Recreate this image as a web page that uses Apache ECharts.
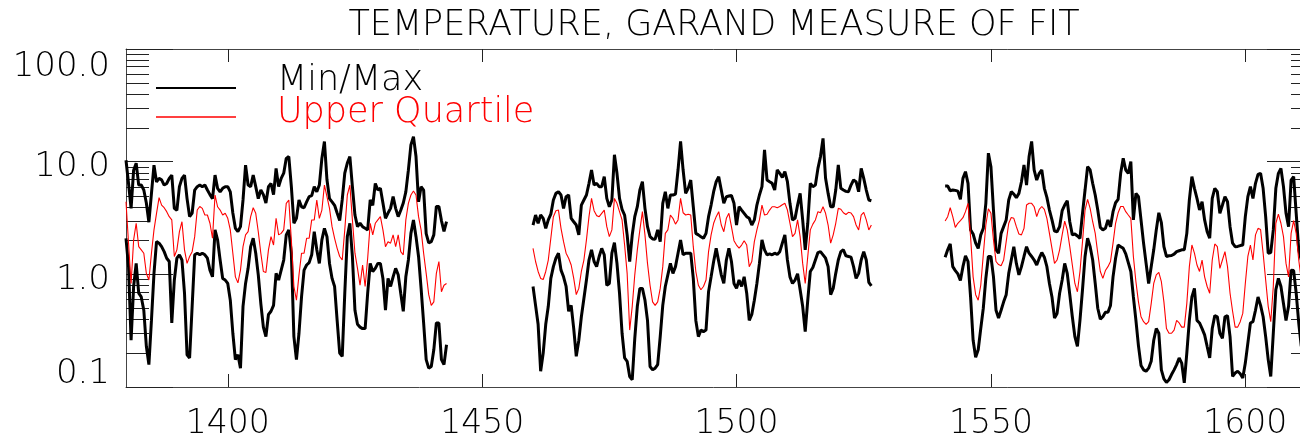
<!DOCTYPE html>
<html>
<head>
<meta charset="utf-8">
<script src="https://cdn.jsdelivr.net/npm/echarts@6/dist/echarts.min.js"></script>
<style>
html,body{margin:0;padding:0;background:#fff;}
#chart{width:1300px;height:439px;}
</style>
</head>
<body>
<div id="chart"></div>
<script>
// ---- data ----
const TITLE = 'TEMPERATURE, GARAND MEASURE OF FIT';
const STEP = 0.5;                       // sampling step of the series (years)
const segStarts = [1380, 1460, 1541];   // first year of each data segment
const xTicks = [1400, 1450, 1500, 1550, 1600];
const yMinorTicks = [0.2,0.3,0.4,0.5,0.6,0.7,0.8,0.9,2,3,4,5,6,7,8,9,20,30,40,50,60,70,80,90];

const maxSeg1 = [10.3,6.4,3.85,8.4,9.7,6.2,6.2,5.6,4.3,2.9,5.2,9.3,6.6,7.1,6.9,6.2,6.4,7.1,7.6,3.85,3.7,6.0,7.1,7.6,4.7,3.25,3.5,5.6,6.0,6.2,6.0,6.2,5.6,5.1,4.7,7.6,5.8,5.4,5.8,6.0,6.0,5.4,3.5,2.56,2.4,2.65,4.57,9.3,6.2,6.0,7.6,6.0,4.7,5.6,5.1,4.3,6.0,6.4,5.1,8.7,6.0,7.1,7.9,10.7,11.1,
6.0,2.84,3.14,4.57,3.98,3.9,4.4,4.9,5.0,6.0,5.4,6.2,10.7,15.1,6.9,4.7,4.4,4.1,3.5,3.0,4.6,7.9,9.7,11.1,6.0,3.36,2.65,2.84,2.65,2.56,2.48,4.57,4.1,6.4,5.6,5.8,4.3,3.14,3.5,3.85,4.9,3.85,3.25,3.7,4.3,5.4,8.4,14.1,16.7,11.1,4.4,6.0,5.6,2.3,1.9,1.95,2.24,4.0,4.0,3.0,2.4,2.93];
const maxSeg2 = [2.74,3.36,2.84,3.36,3.14,2.56,3.04,3.42,4.57,5.23,5.41,5.06,3.85,4.89,5.06,3.14,2.93,2.74,2.24,4.12,4.57,5.06,6.42,8.43,6.2,6.42,6.0,6.0,7.36,4.72,3.98,4.57,11.5,7.88,4.72,3.77,3.36,2.24,1.3,2.24,3.25,3.98,5.6,6.64,3.85,2.65,2.16,2.06,2.05,2.48,1.95,4.27,5.41,3.85,5.06,5.06,5.16,8.43,15.1,8.43,5.23,5.8,6.87,3.98,2.31,2.24,2.16,2.09,
2.31,3.25,4.12,5.41,6.64,7.36,5.6,4.27,4.89,4.95,5.0,4.27,2.74,3.98,3.72,3.48,3.25,3.14,2.74,3.04,4.12,5.06,6.0,12.7,6.87,6.64,6.42,5.6,8.43,7.88,7.25,8.15,6.64,4.27,3.04,3.14,4.12,5.23,3.04,1.65,2.84,6.42,6.0,6.2,8.72,11.1,16.1,7.11,5.23,3.98,3.98,5.6,9.34,5.8,5.6,5.45,5.41,6.2,6.87,6.64,5.41,8.72,7.11,5.6,4.57,4.5];
const maxSeg3 = [6.08,6.08,5.52,5.6,5.56,5.48,4.63,7.11,8.15,6.42,2.48,2.28,1.89,1.7,2.24,2.56,4.27,11.9,9.03,3.72,1.65,1.54,2.31,2.65,3.04,4.57,5.41,5.16,4.79,5.23,6.64,9.34,6.2,11.1,15.1,8.43,6.87,7.88,8.43,5.8,4.82,3.72,3.04,2.42,2.39,2.65,3.67,4.12,4.5,2.93,2.24,2.28,2.19,2.09,3.48,5.6,9.03,8.43,6.42,5.06,3.72,2.61,2.48,2.56,3.04,2.65,3.6,4.32,4.63,7.88,
10.7,8.43,7.88,10.0,3.04,5.23,4.89,3.04,1.89,1.25,0.83,1.17,1.65,2.48,3.52,2.88,1.76,1.44,1.46,1.47,1.51,1.59,1.62,1.65,1.65,2.31,4.57,7.36,5.8,4.72,3.72,4.41,3.04,2.39,2.09,4.72,5.8,5.41,3.48,4.12,4.89,4.41,2.65,1.89,1.76,1.77,1.8,1.82,3.25,4.89,6.0,4.72,6.42,7.72,7.88,5.8,3.25,1.54,1.56,2.48,5.8,7.88,8.72,6.0,3.48,2.65,6.87,7.36,3.48,1.65,1.34];

const minSeg1 = [2.09,1.17,0.26,0.78,1.25,0.68,0.63,0.48,0.23,0.158,0.39,1.02,1.95,1.89,1.76,1.59,1.39,1.3,0.37,0.89,1.39,1.49,1.34,0.68,0.193,0.181,0.52,1.49,1.54,1.49,1.54,1.49,1.39,1.09,0.95,2.48,2.02,1.34,0.92,0.89,0.83,0.59,0.3,0.175,0.193,0.147,0.52,0.83,1.13,1.76,2.09,1.54,0.99,0.55,0.34,0.28,0.44,0.47,0.53,1.02,0.89,1.09,1.34,2.24,2.48,
1.54,0.28,0.175,0.3,0.63,1.09,1.21,1.27,1.49,2.39,1.65,1.25,2.02,2.56,2.16,1.25,0.92,0.78,0.39,0.2,0.187,0.68,2.16,2.84,1.44,0.48,0.36,0.34,0.33,0.33,0.68,1.25,1.06,1.13,1.25,1.25,0.92,0.48,0.92,0.78,0.95,1.13,0.99,0.68,0.47,0.95,1.34,2.31,3.04,2.16,1.44,0.75,0.37,0.175,0.147,0.152,0.214,0.37,0.37,0.175,0.158,0.237];
const minSeg2 = [0.78,0.53,0.36,0.138,0.2,0.36,0.52,0.92,1.17,1.39,1.54,1.09,0.95,0.78,0.47,0.53,0.33,0.187,0.26,0.42,0.61,0.89,1.34,1.65,1.3,1.17,1.44,1.7,1.49,0.8,0.83,1.54,1.91,1.25,0.68,0.3,0.181,0.169,0.124,0.116,0.27,0.52,0.75,0.75,0.59,0.39,0.152,0.142,0.147,0.158,0.28,0.53,0.78,0.99,1.25,1.02,1.17,1.54,2.02,1.49,1.54,1.54,1.54,0.92,0.39,0.28,0.32,0.31,
0.32,0.7,0.95,1.3,1.7,1.3,0.99,0.83,1.34,1.7,1.3,0.83,0.75,0.89,0.78,0.95,0.68,0.39,0.44,0.59,0.83,1.25,2.02,1.65,1.49,1.52,1.49,1.54,1.5,1.59,1.89,2.24,1.34,0.95,0.83,0.89,1.01,0.73,0.52,0.31,0.59,1.06,1.15,1.34,1.56,1.59,1.49,1.39,1.17,0.66,0.75,1.02,1.34,1.59,1.65,1.46,1.44,1.42,1.17,0.92,1.02,1.34,1.59,1.34,0.85,0.79];
const minSeg3 = [1.42,1.65,1.86,1.17,1.08,1.01,0.88,1.17,1.46,1.3,0.63,0.26,0.184,0.214,0.33,0.5,0.92,1.44,1.44,0.95,0.48,0.41,0.48,0.57,0.66,1.02,1.34,1.76,1.25,0.99,1.17,1.44,1.76,1.54,1.44,1.34,1.21,1.39,1.56,1.42,1.17,0.83,0.63,0.41,0.45,0.68,0.89,1.25,1.02,0.66,0.42,0.28,0.229,0.39,0.73,1.44,2.09,1.76,1.34,0.83,0.5,0.4,0.42,0.46,0.46,0.53,0.95,1.39,1.82,1.76,
1.7,1.52,1.27,1.06,0.63,0.39,0.232,0.155,0.142,0.138,0.147,0.169,0.26,0.33,0.3,0.142,0.118,0.11,0.116,0.129,0.142,0.158,0.181,0.163,0.109,0.2,0.39,0.63,0.75,0.39,0.37,0.33,0.29,0.229,0.181,0.33,0.43,0.42,0.3,0.27,0.42,0.43,0.28,0.124,0.133,0.138,0.131,0.12,0.163,0.245,0.37,0.38,0.48,0.63,0.53,0.42,0.28,0.175,0.124,0.3,0.73,0.92,0.78,0.55,0.39,0.52,1.09,1.08,0.68,0.37,0.229];

const upqSeg1 = [4.41,1.89,0.83,2.02,2.84,1.76,1.65,1.54,1.02,0.89,1.54,2.48,3.48,4.8,4.12,3.9,3.6,3.25,3.04,1.44,1.65,2.39,2.93,1.65,1.25,1.44,1.59,2.16,3.72,4.0,3.85,3.36,3.36,2.84,2.09,5.06,3.98,3.72,3.36,3.48,3.14,2.48,1.54,0.95,0.84,1.09,1.76,2.24,2.39,3.25,3.9,3.48,2.39,1.54,1.06,1.04,1.65,2.16,1.82,3.14,2.24,2.31,2.48,4.27,4.57,
2.02,0.78,0.59,0.99,1.54,1.54,2.09,2.09,3.04,3.04,4.57,3.14,3.72,6.2,4.89,3.85,2.65,2.09,1.7,1.44,1.34,2.48,5.06,6.2,3.04,1.54,1.13,0.8,1.21,0.78,1.39,2.84,2.24,2.84,3.04,3.25,2.48,1.76,1.95,1.89,2.24,1.76,2.24,1.59,1.49,3.04,4.27,5.06,5.5,5.06,3.25,2.48,1.54,1.02,0.66,0.53,0.57,1.02,1.3,0.7,0.8,0.83];
const upqSeg2 = [1.7,1.3,1.06,0.92,0.9,1.06,1.34,2.09,3.25,3.67,3.72,2.56,1.95,1.54,1.39,1.21,0.92,0.66,0.75,1.06,1.34,2.02,3.25,4.72,3.67,3.32,3.25,3.48,3.72,2.65,2.16,2.48,4.72,4.27,3.6,3.04,1.82,1.02,0.32,0.52,0.99,1.65,2.48,3.6,2.24,1.25,0.8,0.57,0.53,0.57,0.75,1.17,2.31,2.48,3.36,3.14,2.79,3.04,4.72,3.52,3.36,3.42,3.36,1.76,1.06,0.8,0.73,0.78,
0.89,1.59,2.24,2.84,3.25,3.6,2.74,2.39,3.14,3.48,2.65,1.99,1.82,1.71,1.82,1.99,1.82,1.17,1.3,1.95,2.48,3.04,4.12,3.36,3.42,3.72,3.98,3.98,3.9,4.0,4.15,4.27,3.72,2.84,2.16,2.31,3.04,2.16,1.25,0.83,1.44,2.48,2.79,3.04,3.6,3.52,3.98,3.48,2.74,1.89,2.24,2.84,3.85,3.78,3.52,3.4,3.55,3.5,3.25,2.74,2.48,3.36,3.55,3.04,2.48,2.74];
const upqSeg3 = [2.97,3.25,3.9,3.25,2.61,2.84,3.0,3.18,3.6,4.27,2.16,0.95,0.66,0.59,0.8,1.49,2.74,3.82,3.48,2.02,1.3,1.22,1.19,1.34,1.95,2.84,3.2,3.14,2.65,2.28,2.24,2.56,4.12,4.27,4.27,3.98,3.25,3.77,4.0,3.77,3.14,2.31,1.7,1.25,1.34,1.65,2.24,2.97,2.48,1.76,1.21,0.83,0.7,1.06,1.95,3.72,4.63,3.85,2.93,2.31,1.54,1.06,0.92,1.08,1.17,1.3,1.89,2.84,3.52,4.0,
4.0,3.6,3.36,3.14,1.44,0.86,0.57,0.42,0.38,0.36,0.38,0.55,0.83,0.99,1.04,0.86,0.57,0.33,0.3,0.3,0.32,0.39,0.37,0.34,0.34,0.55,1.17,1.82,1.54,1.21,1.06,1.34,0.95,0.78,0.68,1.34,1.86,1.76,1.13,1.34,1.59,1.17,0.68,0.47,0.34,0.34,0.38,0.45,0.83,1.44,1.82,1.34,2.24,2.56,2.5,1.54,0.89,0.52,0.38,0.78,2.84,3.42,2.84,2.16,1.25,0.95,2.31,3.0,2.31,1.34,0.89];

// ---- build series data ----
function build(segs) {
  const out = [];
  segs.forEach(function (seg, i) {
    if (i > 0) out.push([segStarts[i] - 1, null]);   // gap between segments
    seg.forEach(function (v, j) { out.push([segStarts[i] + j * STEP, v]); });
  });
  return out;
}
const maxData = build([maxSeg1, maxSeg2, maxSeg3]);
const minData = build([minSeg1, minSeg2, minSeg3]);
const upqData = build([upqSeg1, upqSeg2, upqSeg3]);

const X_MIN = 1380, X_MAX = 1613.5;
const FONT = "'DejaVu Sans ExtraLight', 'DejaVu Sans', sans-serif";
const FW = 200;
const AXIS_COLOR = '#444', TICK_COLOR = '#222';

const chart = echarts.init(document.getElementById('chart'), null, {renderer: 'canvas'});

function xAxisCfg(pos, showLabel) {
  return {
    type: 'value', min: X_MIN, max: X_MAX, position: pos,
    axisLine: {show: true, onZero: false, lineStyle: {color: AXIS_COLOR, width: 1}},
    axisTick: {show: true, inside: true, length: 13, customValues: xTicks, lineStyle: {color: TICK_COLOR, width: 1}},
    axisLabel: {
      show: showLabel, customValues: xTicks, margin: 21, fontSize: 33, color: '#000',
      fontFamily: FONT, fontWeight: FW,
      formatter: function (v) { return String(Math.round(v)); }
    },
    splitLine: {show: false}
  };
}
function yAxisCfg(pos, showLabel) {
  const lab = {fontSize: 34, color: '#000', fontFamily: FONT, fontWeight: FW};
  return {
    type: 'log', logBase: 10, min: 0.1, max: 100, position: pos,
    axisLine: {show: true, lineStyle: {color: AXIS_COLOR, width: 1}},
    axisTick: {show: true, inside: true, length: 47, lineStyle: {color: TICK_COLOR, width: 1}},
    axisLabel: {
      show: showLabel, margin: 16, showMinLabel: true, showMaxLabel: true,
      formatter: function (v) {
        const s = Number(v).toFixed(1);
        if (v < 0.5) return '{lo|' + s + '}';
        if (v > 50) return '{hi|' + s + '}';
        return '{mid|' + s + '}';
      },
      rich: {
        lo: Object.assign({padding: [0, 0, 26, 0]}, lab),
        hi: Object.assign({padding: [36, 0, 0, 0]}, lab),
        mid: Object.assign({padding: [12, 0, 0, 0]}, lab)
      }
    },
    splitLine: {show: false},
    minorTick: {show: false}
  };
}

const option = {
  animation: false,
  backgroundColor: '#fff',
  title: {
    text: TITLE, left: 714, top: 25.5, padding: 0,
    textAlign: 'center', textVerticalAlign: 'middle',
    textStyle: {fontSize: 35, color: '#000', fontFamily: FONT, fontWeight: FW}
  },
  grid: {left: 126, top: 49, width: 1188, height: 338, containLabel: false, outerBoundsMode: 'none'},
  xAxis: [xAxisCfg('bottom', true), xAxisCfg('top', false)],
  yAxis: [yAxisCfg('left', true), yAxisCfg('right', false)],
  graphic: [
    {type: 'line', shape: {x1: 156, y1: 88, x2: 236, y2: 88}, style: {stroke: '#000', lineWidth: 2}, z: 10},
    {type: 'line', shape: {x1: 156, y1: 117, x2: 236, y2: 117}, style: {stroke: '#ff0000', lineWidth: 1.5}, z: 10},
    {type: 'text', x: 277, y: 80.5, z: 10, style: {text: 'Min/Max', fill: '#000', fontSize: 35, fontFamily: FONT, fontWeight: FW, verticalAlign: 'middle'}},
    {type: 'text', x: 277, y: 113, z: 10, style: {text: 'Upper Quartile', fill: '#ff0000', fontSize: 35, fontFamily: FONT, fontWeight: FW, verticalAlign: 'middle'}}
  ],
  series: [
    {
      name: 'minor ticks', type: 'custom', xAxisIndex: 0, yAxisIndex: 0, silent: true,
      data: yMinorTicks.map(function (v) { return [X_MIN, v]; }),
      encode: {x: 0, y: 1},
      renderItem: function (params, api) {
        const cs = params.coordSys;
        const y = Math.round(api.coord([X_MIN, api.value(1)])[1]) + 0.5;
        const st = {stroke: TICK_COLOR, lineWidth: 1};
        return {type: 'group', children: [
          {type: 'line', shape: {x1: cs.x, y1: y, x2: cs.x + 23, y2: y}, style: st},
          {type: 'line', shape: {x1: cs.x + cs.width - 23, y1: y, x2: cs.x + cs.width, y2: y}, style: st}
        ]};
      },
      z: 1
    },
    {
      name: 'Min/Max', type: 'line', data: maxData, xAxisIndex: 0, yAxisIndex: 0,
      symbol: 'none', showSymbol: false, connectNulls: false,
      lineStyle: {color: '#000', width: 3}, itemStyle: {color: '#000'}, z: 3
    },
    {
      name: 'Min/Max', type: 'line', data: minData, xAxisIndex: 0, yAxisIndex: 0,
      symbol: 'none', showSymbol: false, connectNulls: false,
      lineStyle: {color: '#000', width: 3}, itemStyle: {color: '#000'}, z: 3
    },
    {
      name: 'Upper Quartile', type: 'line', data: upqData, xAxisIndex: 0, yAxisIndex: 0,
      symbol: 'none', showSymbol: false, connectNulls: false,
      lineStyle: {color: '#ff0000', width: 1.1}, itemStyle: {color: '#ff0000'}, z: 4
    }
  ]
};
chart.setOption(option);
</script>
</body>
</html>
